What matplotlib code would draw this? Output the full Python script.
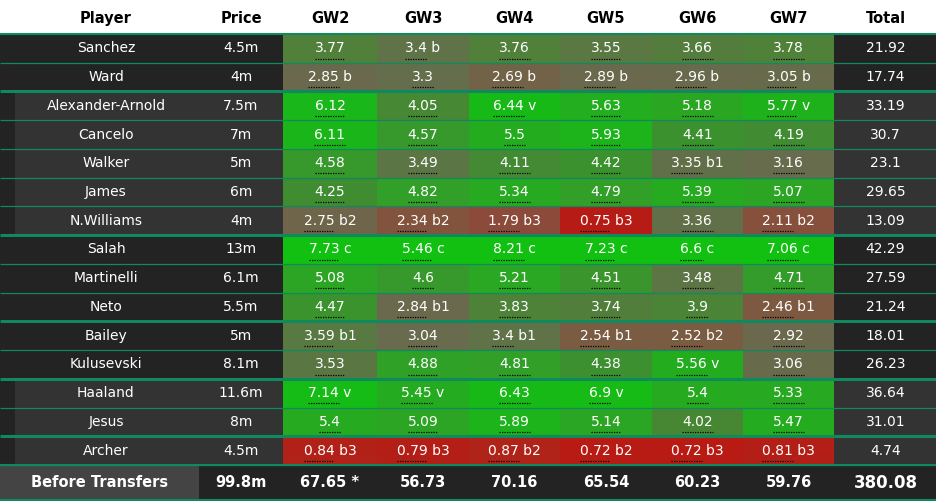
import matplotlib
matplotlib.use("Agg")
import matplotlib.pyplot as plt
from matplotlib.patches import Rectangle
from matplotlib.colors import LinearSegmentedColormap
from matplotlib.font_manager import FontProperties

# ---- data ----
headers = ["Player", "Price", "GW2", "GW3", "GW4", "GW5", "GW6", "GW7", "Total"]
players = ["Sanchez", "Ward", "Alexander-Arnold", "Cancelo", "Walker", "James",
           "N.Williams", "Salah", "Martinelli", "Neto", "Bailey", "Kulusevski",
           "Haaland", "Jesus", "Archer"]
positions = ["GK", "GK", "DEF", "DEF", "DEF", "DEF", "DEF", "MID", "MID", "MID",
             "MID", "MID", "FWD", "FWD", "FWD"]
prices = ["4.5m", "4m", "7.5m", "7m", "5m", "6m", "4m", "13m", "6.1m", "5.5m",
          "5m", "8.1m", "11.6m", "8m", "4.5m"]
points = [
    [3.77, 3.4, 3.76, 3.55, 3.66, 3.78],
    [2.85, 3.3, 2.69, 2.89, 2.96, 3.05],
    [6.12, 4.05, 6.44, 5.63, 5.18, 5.77],
    [6.11, 4.57, 5.5, 5.93, 4.41, 4.19],
    [4.58, 3.49, 4.11, 4.42, 3.35, 3.16],
    [4.25, 4.82, 5.34, 4.79, 5.39, 5.07],
    [2.75, 2.34, 1.79, 0.75, 3.36, 2.11],
    [7.73, 5.46, 8.21, 7.23, 6.6, 7.06],
    [5.08, 4.6, 5.21, 4.51, 3.48, 4.71],
    [4.47, 2.84, 3.83, 3.74, 3.9, 2.46],
    [3.59, 3.04, 3.4, 2.54, 2.52, 2.92],
    [3.53, 4.88, 4.81, 4.38, 5.56, 3.06],
    [7.14, 5.45, 6.43, 6.9, 5.4, 5.33],
    [5.4, 5.09, 5.89, 5.14, 4.02, 5.47],
    [0.84, 0.79, 0.87, 0.72, 0.72, 0.81],
]
tags = [
    ["", "b", "", "", "", ""],
    ["b", "", "b", "b", "b", "b"],
    ["", "", "v", "", "", "v"],
    ["", "", "", "", "", ""],
    ["", "", "", "", "b1", ""],
    ["", "", "", "", "", ""],
    ["b2", "b2", "b3", "b3", "", "b2"],
    ["c", "c", "c", "c", "c", "c"],
    ["", "", "", "", "", ""],
    ["", "b1", "", "", "", "b1"],
    ["b1", "", "b1", "b1", "b2", ""],
    ["", "", "", "", "v", ""],
    ["v", "v", "", "v", "", ""],
    ["", "", "", "", "", ""],
    ["b3", "b3", "b2", "b2", "b3", "b3"],
]
totals = ["21.92", "17.74", "33.19", "30.7", "23.1", "29.65", "13.09", "42.29",
          "27.59", "21.24", "18.01", "26.23", "36.64", "31.01", "4.74"]
footer_label = "Before Transfers"
footer_price = "99.8m"
footer_gw = ["67.65 *", "56.73", "70.16", "65.54", "60.23", "59.76"]
footer_total = "380.08"

# ---- style ----
W, H = 937, 502
col_edges = [0, 199, 283, 377, 469, 560, 652, 743, 834, 937]
header_h = 35
row_h = (466 - 35) / len(players)
footer_top, footer_bot = 466, 500
thick_after = [1, 6, 9, 11, 13]
line_col = "#0f8a5e"
dark, mid = "#232323", "#333333"

anchors = [(0.7, "#b81a14"), (1.0, "#a82c1f"), (1.8, "#8c4a3a"), (2.4, "#80563f"),
           (2.8, "#6b684d"), (3.3, "#646e4c"), (3.8, "#4e8238"), (4.3, "#3e8d30"),
           (4.8, "#32a028"), (5.5, "#24ac1f"), (6.2, "#18b818"), (8.2, "#12c012")]
lo, hi = anchors[0][0], anchors[-1][0]
cmap = LinearSegmentedColormap.from_list(
    "pts", [((v - lo) / (hi - lo), c) for v, c in anchors])


def cell_color(v, tag):
    if tag == "c":
        v = v * 2
    v = min(max(v, lo), hi)
    return cmap((v - lo) / (hi - lo))


plt.rcParams['font.family'] = ['DejaVu Sans']
fig = plt.figure(figsize=(W / 100, H / 100), dpi=100)
fig.patch.set_facecolor("white")
ax = fig.add_axes([0, 0, 1, 1])
ax.set_xlim(0, W)
ax.set_ylim(H, 0)
ax.axis("off")
renderer = fig.canvas.get_renderer()

centers = [(col_edges[i] + col_edges[i + 1]) / 2 for i in range(len(col_edges) - 1)]
centers[0] = 106

# header
for i, h in enumerate(headers):
    ax.text(centers[i], header_h / 2 + 1, h, ha="center", va="center",
            fontsize=10.5, fontweight="bold", color="black")

fp = FontProperties(family="DejaVu Sans", size=10)


def text_w(s):
    w, _, _ = renderer.get_text_width_height_descent(s, fp, ismath=False)
    return w

for r, name in enumerate(players):
    top = header_h + r * row_h
    bg = dark if positions[r] in ("GK", "MID") else mid
    ax.add_patch(Rectangle((0, top), W, row_h, facecolor=bg, lw=0))
    if bg == mid:
        ax.add_patch(Rectangle((0, top), 15, row_h, facecolor=dark, lw=0))
    cy = top + row_h / 2 - 1
    ax.text(centers[0], cy, name, ha="center", va="center", fontsize=10, color="white")
    ax.text(centers[1], cy, prices[r], ha="center", va="center", fontsize=10, color="white")
    for g in range(6):
        x0 = col_edges[2 + g]
        x1 = col_edges[3 + g]
        v, t = points[r][g], tags[r][g]
        ax.add_patch(Rectangle((x0, top), x1 - x0, row_h,
                               facecolor=cell_color(v, t), lw=0))
        num = f"{v:g}"
        label = num + (" " + t if t else "")
        cx = centers[2 + g]
        ax.text(cx, cy, label, ha="center", va="center", fontsize=10, color="white")
        lx = cx - text_w(label) / 2
        ax.plot([lx, lx + text_w(num)], [top + 24.5, top + 24.5], color="black",
                lw=0.9, ls=(0, (1, 1)), solid_capstyle="butt")
    ax.text(centers[8], cy, totals[r], ha="center", va="center", fontsize=10, color="white")

# row separators
for r in range(len(players) + 1):
    y = header_h + r * row_h
    if r == 0:
        lw = 1.5
    elif r - 1 in thick_after:
        lw = 2.2
    else:
        lw = 0.9
    ax.plot([0, W], [y, y], color=line_col, lw=lw, solid_capstyle="butt")

# footer
ax.add_patch(Rectangle((0, footer_top), W, footer_bot - footer_top, facecolor=dark, lw=0))
ax.add_patch(Rectangle((0, footer_top), col_edges[1], footer_bot - footer_top,
                       facecolor="#444444", lw=0))
fy = (footer_top + footer_bot) / 2
ax.text(100, fy, footer_label, ha="center", va="center", fontsize=10.5,
        fontweight="bold", color="white")
ax.text(centers[1], fy, footer_price, ha="center", va="center", fontsize=10.5,
        fontweight="bold", color="white")
for g, s in enumerate(footer_gw):
    ax.text(centers[2 + g], fy, s, ha="center", va="center", fontsize=10.5,
            fontweight="bold", color="white")
ax.text(centers[8], fy, footer_total, ha="center", va="center", fontsize=12,
        fontweight="bold", color="white")
ax.plot([0, W], [footer_bot + 0.5, footer_bot + 0.5], color=line_col, lw=1.5)
ax.plot([0, W], [footer_top, footer_top], color=line_col, lw=1.5)

fig.savefig("out.png", dpi=100, facecolor="white")
